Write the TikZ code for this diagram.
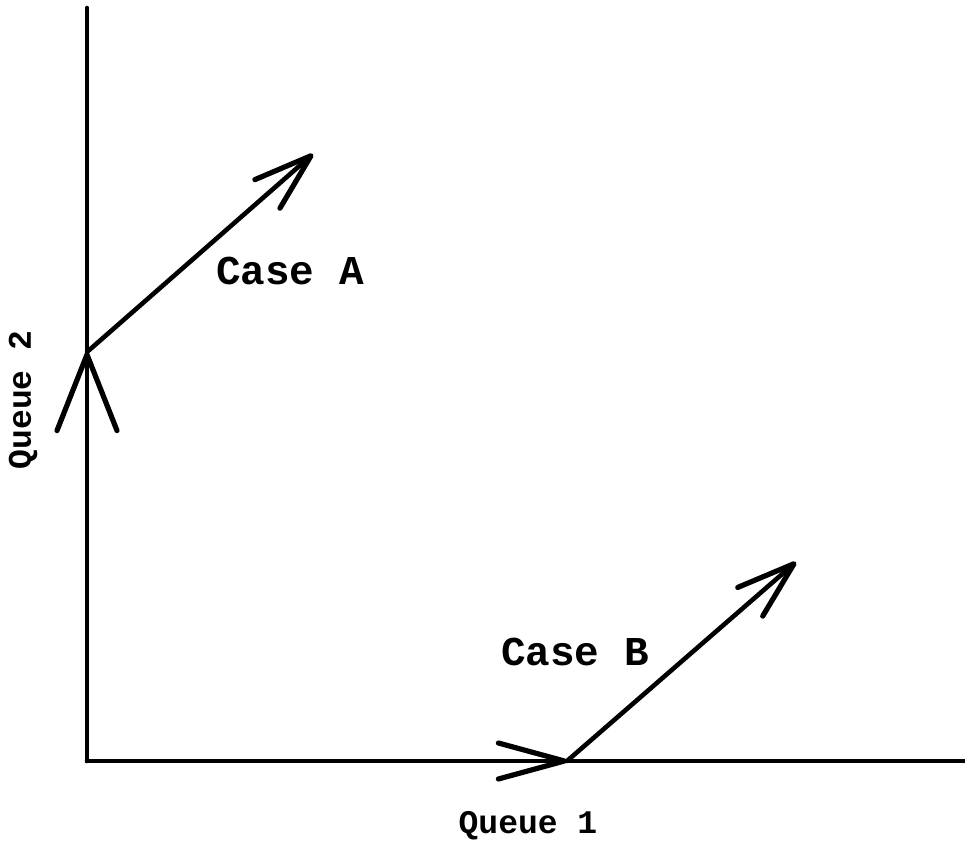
\documentclass[tikz,border=0pt]{standalone}
\usepackage{fontspec}
\setmonofont{Liberation Mono}
\usetikzlibrary{arrows.meta}

\begin{document}
\begin{tikzpicture}[
    x=0.5pt,
    y=-0.5pt,
    line width=2.3pt,
    line cap=round,
    axislbl/.style={font=\ttfamily\bfseries\fontsize{16.5}{18}\selectfont},
    caselbl/.style={font=\ttfamily\bfseries\fontsize{20.5}{22}\selectfont},
    bigarr/.style={-{Straight Barb[length=38pt,width=30pt,line width=2.6pt,round]}},
    arr/.style={-{Straight Barb[length=29pt,width=19pt,line width=2.6pt,round]}},
    harr/.style={-{Straight Barb[length=33pt,width=18pt,line width=2.6pt,round]}}
]
\useasboundingbox (0,0) rectangle (965,846);

% axes
\coordinate (origin) at (87,761);
\coordinate (ytop) at (87,8);
\coordinate (xend) at (965,761);
\draw (ytop) -- (origin) -- (xend);

% case A: up the queue 2 axis, then diagonal
\coordinate (pa) at (87,352);
\coordinate (ea) at (313,154);
\draw[bigarr] (origin) -- (pa);
\draw[arr] (pa) -- (ea);
\node[caselbl] (casea) at (290,271) {Case A};

% case B: along the queue 1 axis, then diagonal
\coordinate (pb) at (567,761);
\coordinate (eb) at (796,562);
\draw[harr] (origin) -- (pb);
\draw[arr] (pb) -- (eb);
\node[caselbl] (caseb) at (575,652) {Case B};

% axis labels
\node[axislbl] (q1) at (528,826) {Queue 1};
\node[axislbl, rotate=90] (q2) at (23,400) {Queue 2};

\end{tikzpicture}
\end{document}
